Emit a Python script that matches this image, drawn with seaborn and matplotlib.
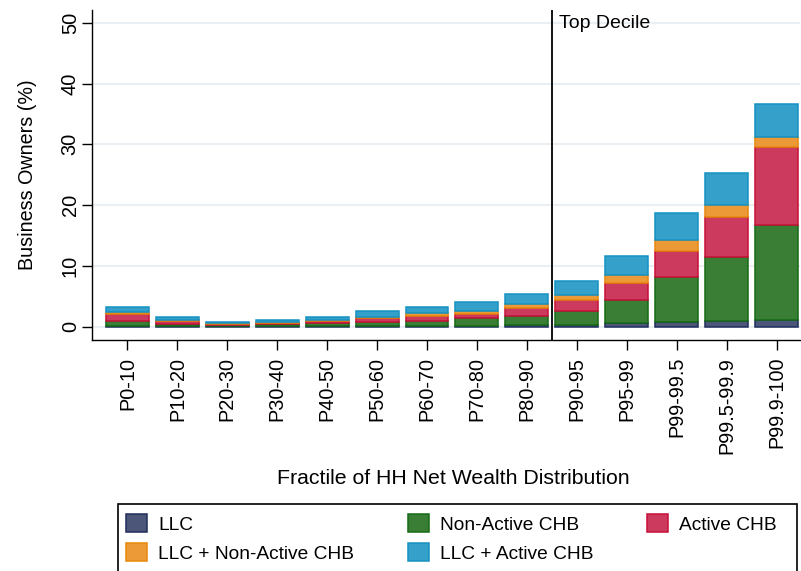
import numpy as np
import pandas as pd
import matplotlib
matplotlib.use("Agg")
import matplotlib.pyplot as plt
import seaborn as sns
from matplotlib.patches import Rectangle

# ------------------ Data ------------------
fractiles = ["P0-10", "P10-20", "P20-30", "P30-40", "P40-50", "P50-60", "P60-70",
             "P70-80", "P80-90", "P90-95", "P95-99", "P99-99.5", "P99.5-99.9", "P99.9-100"]

llc            = [0.10, 0.10, 0.05, 0.05, 0.10, 0.10, 0.10, 0.15, 0.20, 0.30, 0.55, 0.80, 1.00, 1.10]
non_active_chb = [0.90, 0.40, 0.30, 0.40, 0.45, 0.70, 0.90, 1.20, 1.60, 2.35, 3.90, 7.35, 10.50, 15.60]
active_chb     = [1.00, 0.40, 0.10, 0.15, 0.40, 0.65, 0.70, 0.80, 1.25, 1.65, 2.65, 4.30, 6.60, 12.85]
llc_non_active = [0.40, 0.15, 0.10, 0.15, 0.20, 0.15, 0.50, 0.50, 0.65, 0.90, 1.35, 1.80, 1.90, 1.70]
llc_active     = [0.90, 0.50, 0.15, 0.30, 0.50, 0.90, 1.10, 1.40, 1.75, 2.25, 3.10, 4.40, 5.20, 5.40]

series_names = ["LLC", "Non-Active CHB", "Active CHB", "LLC + Non-Active CHB", "LLC + Active CHB"]
fill_colors = ["#4b5679", "#3a7d35", "#cc3a5e", "#ec9a38", "#35a0c9"]
edge_colors = ["#1f2d5c", "#156b15", "#c81038", "#e5880e", "#1592c4"]

y_ticks = [0, 10, 20, 30, 40, 50]

# ------------------ Style ------------------
sns.set_theme(style="white")
plt.rcParams["font.family"] = ["Liberation Sans", "DejaVu Sans"]
plt.rcParams["font.size"] = 14
for k in ["text.color", "axes.labelcolor", "xtick.color", "ytick.color"]:
    plt.rcParams[k] = "black"

df = pd.DataFrame({"Fractile": fractiles, "LLC": llc, "Non-Active CHB": non_active_chb,
                   "Active CHB": active_chb, "LLC + Non-Active CHB": llc_non_active,
                   "LLC + Active CHB": llc_active})

fig = plt.figure(figsize=(8.01, 5.71), dpi=100)
ax = fig.add_axes([92 / 801, 1 - 340 / 571, 708 / 801, 330 / 571])

# ------------------ Stacked bars ------------------
bottom = np.zeros(len(fractiles))
for name, fc, ec in zip(series_names, fill_colors, edge_colors):
    sns.barplot(data=df, x="Fractile", y=name, order=fractiles, bottom=bottom.copy(),
                color=fc, edgecolor=ec, linewidth=1.1, width=0.86, saturation=1,
                errorbar=None, ax=ax, label=name)
    bottom += df[name].values

ax.set_xlim(-0.71, 13.47)
ax.set_ylim(-2.2, 52.1)
ax.set_yticks(y_ticks)
ax.set_yticklabels([str(t) for t in y_ticks], rotation=90, va="center")
ax.tick_params(axis="y", left=True, length=7, width=1, pad=1.8, labelsize=14.4)
ax.tick_params(axis="x", bottom=True, length=7, width=1, pad=5, labelsize=14.3, rotation=90)
ax.set_axisbelow(True)
for t in y_ticks:
    ax.axhline(t, color="#eaeff3", lw=1.5, zorder=0)

for s in ["top", "right"]:
    ax.spines[s].set_visible(False)
for s in ["left", "bottom"]:
    ax.spines[s].set_color("black")
    ax.spines[s].set_linewidth(1)

ax.axvline(8.5, color="black", lw=1.3)
ax.text(8.64, 49.8, "Top Decile", fontsize=14, ha="left", va="center")

ax.set_ylabel("Business Owners (%)", fontsize=14.2)
ax.yaxis.set_label_coords(-0.078, 0.5)
ax.set_xlabel("Fractile of HH Net Wealth Distribution", fontsize=15.3)
ax.xaxis.set_label_coords(0.51, -0.39)

# ------------------ Legend ------------------
handles, labels = ax.get_legend_handles_labels()
if ax.legend_:
    ax.legend_.remove()
lut = dict(zip(labels, handles))
order = ["LLC", "LLC + Non-Active CHB", "Non-Active CHB", "LLC + Active CHB", "Active CHB"]
fig.legend([lut[o] for o in order], order, ncol=3, loc="upper left",
           bbox_to_anchor=(126 / 801, 1 - 514 / 571), frameon=False, fontsize=13.8,
           handlelength=1.08, handleheight=1.08, handletextpad=0.6,
           columnspacing=2.8, labelspacing=0.5, borderaxespad=0, borderpad=0)
fig.add_artist(Rectangle((118 / 801, -0.01), 679 / 801, 0.01 + 67 / 571,
                         transform=fig.transFigure, fill=False, edgecolor="black", lw=1.2))

fig.savefig("out.png", dpi=100)
